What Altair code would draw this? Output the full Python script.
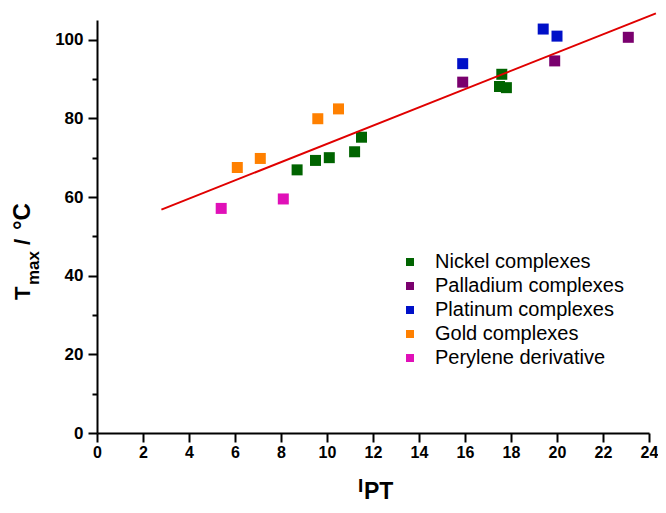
import altair as alt
import pandas as pd

series_names = ["Nickel complexes", "Palladium complexes", "Platinum complexes",
                "Gold complexes", "Perylene derivative"]
series_colors = ["#006400", "#7a006e", "#0010c8", "#ff8000", "#e010b8"]

nickel_x = [8.7, 9.5, 10.1, 11.2, 11.5, 17.6, 17.5, 17.8]
nickel_y = [66.9, 69.3, 70.0, 71.5, 75.2, 91.2, 88.1, 87.8]
palladium_x = [15.9, 19.9, 23.1]
palladium_y = [89.2, 94.6, 100.6]
platinum_x = [15.9, 19.4, 20.0]
platinum_y = [93.9, 102.7, 100.9]
gold_x = [6.1, 7.1, 9.6, 10.5]
gold_y = [67.5, 69.8, 79.9, 82.4]
perylene_x = [5.4, 8.1]
perylene_y = [57.1, 59.5]

fit_x = [2.8, 24.3]
fit_y = [56.8, 106.7]

x_ticks = list(range(0, 25))
y_ticks = list(range(0, 101, 10))

groups = [
    (series_names[0], nickel_x, nickel_y),
    (series_names[1], palladium_x, palladium_y),
    (series_names[2], platinum_x, platinum_y),
    (series_names[3], gold_x, gold_y),
    (series_names[4], perylene_x, perylene_y),
]
rows = []
for name, xs, ys in groups:
    for xv, yv in zip(xs, ys):
        rows.append({"series": name, "ipt": xv, "tmax": yv})
df = pd.DataFrame(rows)
fit_df = pd.DataFrame({"ipt": fit_x, "tmax": fit_y})
one = pd.DataFrame({"a": [0]})

FONT = "Liberation Sans"

x_scale = alt.Scale(domain=[0, 24], nice=False, zero=False)
y_scale = alt.Scale(domain=[0, 105], nice=False)

common_axis = dict(
    grid=False, title=None, domainColor="black", domainWidth=2,
    tickColor="black", tickWidth=2, labelFont=FONT, labelFontWeight="bold",
    labelColor="black", labelOverlap=False, labelFlush=False,
)
x_axis = alt.Axis(
    values=x_ticks,
    labelExpr="datum.value % 2 === 0 ? datum.label : ''",
    tickSize={"condition": {"test": "datum.value % 2 === 0", "value": 9}, "value": 5},
    labelPadding=2, labelFontSize=16,
    **common_axis,
)
y_axis = alt.Axis(
    values=y_ticks,
    labelExpr="datum.value % 20 === 0 ? datum.label : ''",
    tickSize={"condition": {"test": "datum.value % 20 === 0", "value": 9}, "value": 5},
    labelPadding=5, labelFontSize=17,
    **common_axis,
)

points = alt.Chart(df).mark_square(size=121, opacity=1, strokeWidth=0).encode(
    x=alt.X("ipt:Q", scale=x_scale, axis=x_axis),
    y=alt.Y("tmax:Q", scale=y_scale, axis=y_axis),
    color=alt.Color(
        "series:N",
        scale=alt.Scale(domain=series_names, range=series_colors),
        legend=alt.Legend(
            title=None, orient="none", legendX=303, legendY=232,
            symbolType="square", symbolSize=64, symbolStrokeWidth=0,
            symbolOpacity=1, labelFont=FONT, labelFontSize=20, labelLimit=400,
            labelColor="black", labelOffset=15, rowPadding=4, padding=0,
        ),
    ),
)

line = alt.Chart(fit_df).mark_line(color="#e00000", strokeWidth=2, clip=False).encode(
    x=alt.X("ipt:Q", scale=x_scale),
    y=alt.Y("tmax:Q", scale=y_scale),
)


def txt(s, x, y, size, angle=0):
    return alt.Chart(one).mark_text(
        text=s, font=FONT, fontWeight="bold", fontSize=size, align="left",
        baseline="alphabetic", angle=angle, color="black",
    ).encode(x=alt.value(x), y=alt.value(y))


titles = [
    txt("T", -67, 280, 22, 270),
    txt("max", -58, 265, 17, 270),
    txt("/", -67, 225, 22, 270),
    txt("°C", -67, 210, 24, 270),
    txt("I", 261, 472, 19),
    txt("PT", 267, 479, 23),
]

chart = alt.layer(points, line, *titles).properties(
    width=552, height=413,
    autosize=alt.AutoSizeParams(type="none"),
    padding={"left": 89, "top": 12, "right": 9, "bottom": 72},
).configure_view(strokeWidth=0)

chart.save("out.html", embed_options={"renderer": "svg", "actions": False})
